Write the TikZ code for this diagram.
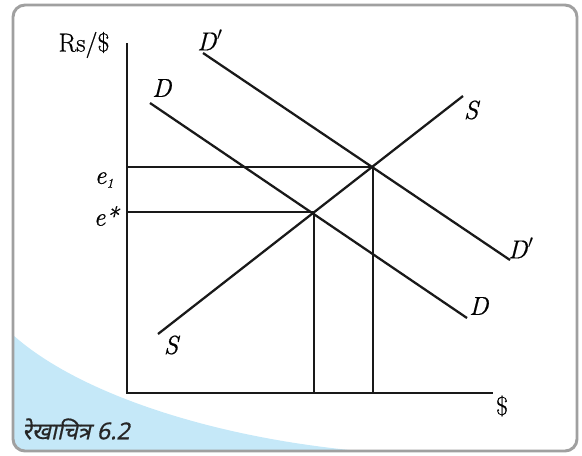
\documentclass[tikz,border=0pt]{standalone}
\usepackage{fontspec}
\newfontfamily\devfont[Script=Devanagari,FakeSlant=0.22,FakeBold=0.6]{Noto Sans}
\newfontfamily\lblfont[FakeBold=0.7]{Latin Modern Roman}
\definecolor{swooshblue}{RGB}{197,232,248}
\definecolor{framegray}{RGB}{160,160,160}
\begin{document}
\begin{tikzpicture}[x=0.75pt,y=-0.75pt,
  curve/.style={line width=1.7pt,black!90},
  axisline/.style={line width=1.8pt,black!90},
  guide/.style={line width=1.7pt,black!90},
  lbl/.style={inner sep=0pt,font=\lblfont\fontsize{19.5}{22}\selectfont}]
\useasboundingbox (0,0) rectangle (582,455);
% frame and swoosh
\begin{scope}
  \clip[rounded corners=9pt] (13,5) rectangle (577,451);
  \fill[swooshblue] (13,335) .. controls (80,395) and (220,440) .. (372,452) -- (13,452) -- cycle;
\end{scope}
\draw[framegray,line width=2.2pt,rounded corners=9pt] (13,5) rectangle (577,451);
% coordinates
\coordinate (O) at (127,393);
\coordinate (ytop) at (127,43);
\coordinate (xend) at (493,393);
\coordinate (d1) at (150,103);
\coordinate (d2) at (467,318);
\coordinate (dp1) at (203,53);
\coordinate (dp2) at (510,260);
\coordinate (s1) at (158,334);
\coordinate (s2) at (463,96);
\coordinate (estar) at (314,212);
\coordinate (eone) at (373,167);
\coordinate (ystar) at (127,212);
\coordinate (yone) at (127,167);
\coordinate (xstar) at (314,393);
\coordinate (xone) at (373,393);
% axes
\draw[axisline] (ytop) -- (O) -- (xend);
% curves
\draw[curve] (d1) -- (d2);
\draw[curve] (dp1) -- (dp2);
\draw[curve] (s1) -- (s2);
% guides
\draw[guide] (yone) -- (eone) -- (xone);
\draw[guide] (ystar) -- (estar) -- (xstar);
% labels
\node[lbl] (ylab) at (84,45) {Rs/\$};
\node[lbl] (xlab) at (502,406) {\$};
\node[lbl] (lDp) at (210,40) {\textit{D}$'$};
\node[lbl] (lD) at (162,88) {\textit{D}};
\node[lbl] (lS) at (472,110) {\textit{S}};
\node[lbl] (lDpr) at (521,248) {\textit{D}$'$};
\node[lbl] (lDr) at (479,306) {\textit{D}};
\node[lbl] (lSl) at (172,345) {\textit{S}};
\node[lbl] (le1) at (104,180) {\textit{e}\raisebox{-0.35ex}{\fontsize{10}{10}\selectfont\textit{1}}};
\node[lbl] (lestar) at (107,216) {\textit{e*}};
\node[inner sep=0pt,anchor=west,text=black!85,font=\devfont\fontsize{17.5}{20}\selectfont] (cap) at (22,429) {रेखाचित्र 6.2};
\end{tikzpicture}
\end{document}
